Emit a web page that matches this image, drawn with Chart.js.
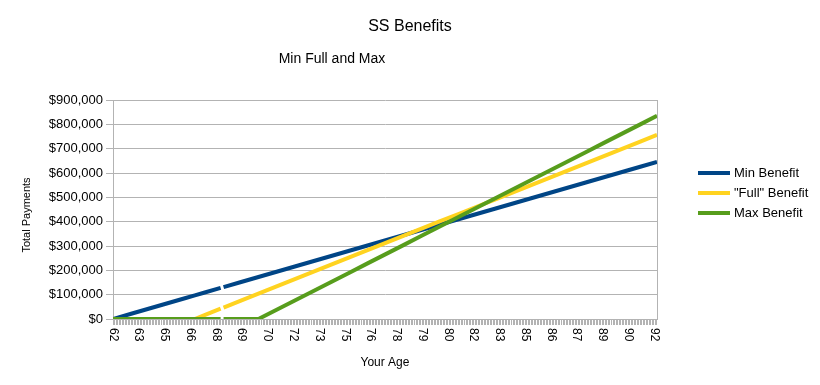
<!DOCTYPE html>
<html>
<head>
<meta charset="utf-8">
<script src="https://cdn.jsdelivr.net/npm/chart.js@4/dist/chart.umd.min.js"></script>
<style>
  html, body { margin: 0; padding: 0; background: #fff; }
  #wrap { width: 820px; height: 385px; position: relative; }
</style>
</head>
<body>
<div id="wrap"><canvas id="chart"></canvas></div>
<script>
// ages (years); 68 is a blank cell in the sheet, so the lines break there
const ages = [62, 63, 64, 65, 66, 66.5, 67, 67.92, 68, 68.08, 69, 70, 71, 72, 73, 74, 75, 76, 77,
  78, 79, 80, 81, 82, 83, 84, 85, 86, 87, 88, 89, 90, 91, 91.92];

const minBenefit = [0, 21600, 43200, 64700, 86300, 97100, 107900, 127700, null, 131300, 151000,
  172600, 194200, 215800, 237300, 258900, 280500, 302100, 323600, 345200, 366800, 388400, 410000,
  431500, 453100, 474700, 496300, 517800, 539400, 561000, 582600, 604100, 625700, 645500];

const fullBenefit = [0, 0, 0, 0, 0, 0, 14900, 42200, null, 47000, 74400, 104200, 133900, 163700,
  193400, 223200, 253000, 282700, 312500, 342200, 372000, 401800, 431500, 461300, 491000, 520800,
  550600, 580300, 610100, 639800, 669600, 699400, 729100, 756500];

const maxBenefit = [0, 0, 0, 0, 0, 0, 0, 0, null, 0, 0, 0, 38100, 76200, 114300, 152400, 190400,
  228500, 266600, 304700, 342800, 380900, 419000, 457100, 495200, 533300, 571300, 609400, 647500,
  685600, 723700, 761800, 799900, 834900];

// category labels shown every 17th month, rounded to whole years
const tickLabels = ['62', '63', '65', '66', '68', '69', '70', '72', '73', '75', '76', '78', '79',
  '80', '82', '83', '85', '86', '87', '89', '90', '92'];

const FONT = '"Liberation Sans", Arial, sans-serif';
const GRID = '#b3b3b3';

const series = [
  { label: 'Min Benefit', values: minBenefit, color: '#004586' },
  { label: '"Full" Benefit', values: fullBenefit, color: '#ffd320' },
  { label: 'Max Benefit', values: maxBenefit, color: '#579d1c' },
];

const toPoints = vals => ages.map((a, i) => ({ x: a, y: vals[i] }));

const decor = {
  id: 'decor',
  afterDraw(chart) {
    const { ctx, chartArea: a, scales: { x } } = chart;
    ctx.save();
    // frame on the right side of the plot
    ctx.strokeStyle = GRID;
    ctx.lineWidth = 1;
    ctx.beginPath();
    ctx.moveTo(Math.round(a.right) + 0.5, a.top);
    ctx.lineTo(Math.round(a.right) + 0.5, a.bottom);
    ctx.stroke();

    ctx.fillStyle = '#000';
    ctx.textAlign = 'center';
    ctx.textBaseline = 'middle';
    ctx.font = '16px ' + FONT;
    ctx.fillText('SS Benefits', 410, 27);
    ctx.font = '14px ' + FONT;
    ctx.fillText('Min Full and Max', 332, 59);

    // y title
    ctx.save();
    ctx.font = '11px ' + FONT;
    ctx.translate(27, 215);
    ctx.rotate(-Math.PI / 2);
    ctx.fillText('Total Payments', 0, 0);
    ctx.restore();

    // x labels, turned clockwise
    ctx.font = '12px ' + FONT;
    tickLabels.forEach((t, i) => {
      const px = x.getPixelForValue(ages[0] + i * 17 / 12);
      ctx.save();
      ctx.translate(px, a.bottom + 9);
      ctx.rotate(Math.PI / 2);
      ctx.textAlign = 'left';
      ctx.fillText(t, 0, 0);
      ctx.restore();
    });

    // legend
    ctx.textAlign = 'left';
    ctx.font = '13px ' + FONT;
    series.forEach((s, i) => {
      const y = 173 + i * 20;
      ctx.strokeStyle = s.color;
      ctx.lineWidth = 4;
      ctx.beginPath();
      ctx.moveTo(698, y);
      ctx.lineTo(730, y);
      ctx.stroke();
      ctx.fillStyle = '#000';
      ctx.fillText(s.label, 734, y);
    });
    ctx.restore();
  }
};

new Chart(document.getElementById('chart'), {
  type: 'line',
  data: {
    datasets: series.map((s, i) => ({
      label: s.label,
      data: toPoints(s.values),
      borderColor: s.color,
      backgroundColor: s.color,
      borderWidth: 4,
      pointRadius: 0,
      spanGaps: false,
      tension: 0,
      order: 3 - i,
    })),
  },
  options: {
    responsive: true,
    maintainAspectRatio: false,
    animation: false,
    layout: { padding: { left: 0, top: 100, right: 163, bottom: 0 } },
    plugins: {
      legend: { display: false },
      title: { display: false },
      tooltip: { enabled: false },
    },
    scales: {
      x: {
        type: 'linear',
        min: ages[0],
        max: ages[ages.length - 1],
        afterBuildTicks: scale => {
          const t = [];
          for (let m = 0; m < 360; m++) t.push({ value: ages[0] + m / 12 });
          scale.ticks = t;
        },
        afterFit: scale => { scale.height = 66; },
        ticks: { display: false, autoSkip: false },
        grid: { drawOnChartArea: false, drawTicks: true, tickLength: 6, color: GRID },
        border: { display: true, color: GRID },
        title: {
          display: true,
          text: 'Your Age',
          color: '#000',
          font: { family: FONT, size: 12 },
          padding: { top: 0, bottom: 15 },
        },
      },
      y: {
        min: 0,
        max: 900000,
        afterFit: scale => { scale.width = 113; },
        ticks: {
          stepSize: 100000,
          padding: 3,
          color: '#000',
          font: { family: FONT, size: 13 },
          callback: v => '$' + v.toLocaleString('en-US'),
        },
        grid: { color: GRID, tickLength: 7 },
        border: { display: true, color: GRID },
        title: { display: false },
      },
    },
  },
  plugins: [decor],
});
</script>
</body>
</html>
